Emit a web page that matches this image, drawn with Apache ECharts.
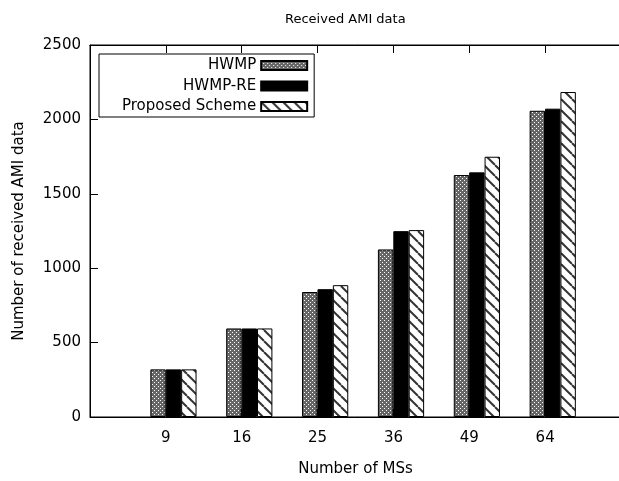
<!DOCTYPE html>
<html>
<head>
<meta charset="utf-8">
<script src="https://cdn.jsdelivr.net/npm/echarts@6/dist/echarts.min.js"></script>
<style>html,body{margin:0;padding:0;background:#fff;}#c{width:619px;height:481px;}</style>
</head>
<body>
<div id="c"></div>
<script>
const categories = ['9', '16', '25', '36', '49', '64'];
const hwmp = [320, 595, 840, 1126, 1626, 2058];
const hwmpRe = [320, 595, 859, 1249, 1644, 2072];
const proposed = [320, 595, 886, 1256, 1749, 2184];
const seriesNames = ['HWMP', 'HWMP-RE', 'Proposed Scheme'];
const yTicks = [0, 500, 1000, 1500, 2000, 2500];

const FONT = 'DejaVu Sans';

function makeChecker() {
  const c = document.createElement('canvas');
  c.width = 4; c.height = 4;
  const g = c.getContext('2d');
  g.fillStyle = '#666'; g.fillRect(0, 0, 4, 4);
  g.fillStyle = '#fff';
  g.fillRect(0, 0, 1, 1); g.fillRect(2, 2, 1, 1);
  return c;
}
function makeHatch() {
  const P = 11;
  const c = document.createElement('canvas');
  c.width = P; c.height = P;
  const g = c.getContext('2d');
  g.fillStyle = '#fff'; g.fillRect(0, 0, P, P);
  g.strokeStyle = '#333'; g.lineWidth = 2;
  [-P, 0, P].forEach(o => { g.beginPath(); g.moveTo(o, 0); g.lineTo(o + P, P); g.stroke(); });
  return c;
}

const fills = [
  { image: makeChecker(), repeat: 'repeat' },
  '#000',
  { image: makeHatch(), repeat: 'repeat' }
];
const values = [hwmp, hwmpRe, proposed];
const groupOffset = 0.1;

const chart = echarts.init(document.getElementById('c'), null, { renderer: 'canvas' });
chart.setOption({
  animation: false,
  backgroundColor: '#fff',
  textStyle: { fontFamily: FONT, color: '#000' },
  title: {
    text: 'Received AMI data',
    left: 280, top: 8,
    textStyle: { fontFamily: FONT, fontSize: 13, fontWeight: 'normal', color: '#000' }
  },
  grid: {
    left: 90, width: 531, top: 45, height: 372,
    containLabel: false,
    outerBoundsMode: 'none',
    show: true, borderColor: '#000', borderWidth: 1, backgroundColor: 'transparent'
  },
  legend: {
    left: 99, top: 54,
    orient: 'vertical',
    align: 'right',
    icon: 'rect',
    itemWidth: 46, itemHeight: 9,
    itemGap: 5.5,
    padding: [4, 6, 3, 23],
    borderColor: '#000', borderWidth: 1,
    backgroundColor: '#fff',
    data: seriesNames,
    textStyle: { fontFamily: FONT, fontSize: 15, color: '#000' }
  },
  xAxis: [{
    type: 'value', position: 'bottom',
    min: -1, max: 6, interval: 1,
    name: 'Number of MSs', nameLocation: 'middle', nameGap: 45,
    nameTextStyle: { fontFamily: FONT, fontSize: 15, color: '#000' },
    axisLine: { show: true, onZero: false, lineStyle: { color: '#000', width: 1 } },
    axisTick: { show: true, inside: true, length: 8, lineStyle: { color: '#000' } },
    axisLabel: {
      fontFamily: FONT, fontSize: 15, color: '#000', margin: 14,
      formatter: v => (v >= 0 && v < categories.length) ? categories[v] : ''
    },
    splitLine: { show: false }
  }, {
    type: 'value', position: 'top',
    min: -1, max: 6, interval: 1,
    axisLine: { show: true, onZero: false, lineStyle: { color: '#000', width: 1 } },
    axisTick: { show: true, inside: true, length: 8, lineStyle: { color: '#000' } },
    axisLabel: { show: false },
    splitLine: { show: false }
  }],
  yAxis: {
    type: 'value', min: yTicks[0], max: yTicks[yTicks.length - 1], interval: 500,
    name: 'Number of received AMI data', nameLocation: 'middle', nameGap: 63,
    nameTextStyle: { fontFamily: FONT, fontSize: 15, color: '#000' },
    axisLine: { show: true, onZero: false, lineStyle: { color: '#000', width: 1 } },
    axisTick: { show: true, inside: true, length: 8, lineStyle: { color: '#000' } },
    axisLabel: { fontFamily: FONT, fontSize: 15, color: '#000', margin: 9, formatter: v => String(v) },
    splitLine: { show: false }
  },
  series: seriesNames.map((name, s) => ({
    name: name,
    type: 'bar',
    xAxisIndex: 0,
    barWidth: 15.4,
    barGap: '0%',
    itemStyle: { color: fills[s], borderColor: '#000', borderWidth: 1 },
    data: values[s].map((v, i) => [i + groupOffset, v])
  }))
});
</script>
</body>
</html>
